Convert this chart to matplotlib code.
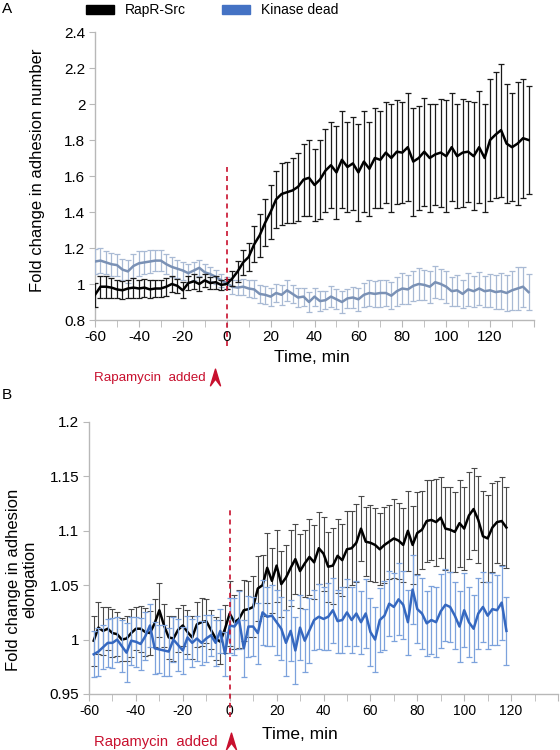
import matplotlib
matplotlib.use('Agg')
import matplotlib.pyplot as plt
import numpy as np
from matplotlib.lines import Line2D
from matplotlib.patches import Patch
from matplotlib.path import Path
from matplotlib.ticker import FuncFormatter, MultipleLocator
import matplotlib.transforms as mtransforms

plt.rcParams['font.family'] = ['Liberation Sans', 'DejaVu Sans']
plt.rcParams['axes.unicode_minus'] = False

# ---- panel A: adhesion number (sampled every 2.5 min) ----
time_a = np.arange(-60, 140, 2.5)

rapr_num = [0.94, 0.985, 0.985, 0.98, 0.97, 0.965, 0.975, 0.98, 0.975, 0.98,
            0.97, 0.975, 0.975, 0.985, 1.0, 0.99, 0.965, 1.005, 1.015, 1.0,
            1.02, 1.005, 1.01, 0.995,
            1.0, 1.03, 1.07, 1.12, 1.15, 1.22, 1.27, 1.34, 1.40, 1.47,
            1.50, 1.51, 1.52, 1.54, 1.58, 1.59, 1.55, 1.58, 1.63, 1.66,
            1.62, 1.69, 1.65, 1.67, 1.62, 1.68, 1.64, 1.70, 1.69, 1.73,
            1.70, 1.735, 1.73, 1.76, 1.68, 1.70, 1.735, 1.70, 1.72, 1.73,
            1.71, 1.76, 1.71, 1.73, 1.735, 1.71, 1.76, 1.70, 1.80, 1.83,
            1.855, 1.78, 1.76, 1.78, 1.81, 1.80]
rapr_num_err = [0.065, 0.06, 0.06, 0.055, 0.05, 0.05, 0.05, 0.055, 0.05, 0.05,
                0.05, 0.045, 0.045, 0.05, 0.045, 0.04, 0.045, 0.04, 0.04, 0.04,
                0.035, 0.035, 0.035, 0.03,
                0.03, 0.04, 0.06, 0.07, 0.08, 0.10, 0.12, 0.13, 0.15, 0.16,
                0.17, 0.17, 0.18, 0.19, 0.20, 0.21, 0.20, 0.22, 0.23, 0.24,
                0.26, 0.27, 0.25, 0.26, 0.27, 0.28, 0.26, 0.28, 0.27, 0.28,
                0.30, 0.29, 0.28, 0.30, 0.30, 0.29, 0.30, 0.30, 0.28, 0.30,
                0.31, 0.30, 0.29, 0.30, 0.28, 0.30, 0.31, 0.30, 0.34, 0.35,
                0.37, 0.33, 0.30, 0.34, 0.33, 0.30]

kd_num = [1.125, 1.13, 1.12, 1.11, 1.105, 1.08, 1.07, 1.10, 1.115, 1.12,
          1.125, 1.13, 1.13, 1.11, 1.095, 1.085, 1.075, 1.06, 1.075, 1.09,
          1.065, 1.055, 1.04, 1.02,
          1.005, 0.985, 0.98, 0.985, 0.975, 0.97, 0.945, 0.94, 0.93, 0.95,
          0.94, 0.965, 0.945, 0.925, 0.93, 0.90, 0.93, 0.905, 0.91, 0.93,
          0.915, 0.90, 0.92, 0.925, 0.915, 0.94, 0.95, 0.945, 0.95, 0.95,
          0.935, 0.96, 0.975, 0.97, 0.99, 1.0, 0.995, 0.985, 1.01, 1.0,
          0.985, 0.96, 0.965, 0.945, 0.97, 0.96, 0.975, 0.96, 0.965, 0.955,
          0.96, 0.95, 0.965, 0.975, 0.985, 0.955]
kd_num_err = [0.07, 0.07, 0.065, 0.065, 0.06, 0.06, 0.065, 0.065, 0.07, 0.065,
              0.065, 0.06, 0.06, 0.055, 0.055, 0.05, 0.05, 0.05, 0.05, 0.045,
              0.045, 0.04, 0.04, 0.035,
              0.035, 0.04, 0.04, 0.045, 0.045, 0.05, 0.05, 0.05, 0.05, 0.05,
              0.055, 0.06, 0.05, 0.055, 0.05, 0.055, 0.05, 0.055, 0.05, 0.06,
              0.055, 0.06, 0.055, 0.06, 0.065, 0.065, 0.07, 0.07, 0.075, 0.07,
              0.075, 0.08, 0.085, 0.08, 0.085, 0.09, 0.085, 0.09, 0.09, 0.085,
              0.09, 0.08, 0.085, 0.08, 0.09, 0.085, 0.09, 0.085, 0.09, 0.095,
              0.10, 0.10, 0.11, 0.12, 0.11, 0.10]

# ---- panel B: adhesion elongation (sampled every 2 min) ----
time_b = np.arange(-58, 120, 2)

rapr_elong = [0.999, 1.011, 1.008, 1.010, 1.006, 1.005, 1.0, 1.001, 1.006, 1.010,
              1.010, 1.007, 1.006, 1.015, 1.027, 1.013, 1.002, 1.001, 1.009, 1.013,
              1.007, 1.002, 1.014, 1.016, 1.017, 1.009, 1.001, 0.998, 1.010,
              1.024, 1.016, 1.019, 1.027, 1.028, 1.030, 1.047, 1.050, 1.066, 1.054,
              1.068, 1.051, 1.057, 1.066, 1.074, 1.063, 1.070, 1.076, 1.071, 1.084,
              1.079, 1.067, 1.068, 1.077, 1.073, 1.083, 1.084, 1.089, 1.102, 1.090,
              1.089, 1.087, 1.083, 1.087, 1.090, 1.093, 1.091, 1.087, 1.100, 1.087,
              1.098, 1.101, 1.109, 1.110, 1.108, 1.112, 1.102, 1.101, 1.099, 1.107,
              1.102, 1.114, 1.120, 1.110, 1.095, 1.093, 1.103, 1.108, 1.109, 1.103]
rapr_elong_err = [0.023, 0.024, 0.022, 0.020, 0.022, 0.020, 0.020, 0.021, 0.022, 0.020,
                  0.021, 0.022, 0.020, 0.022, 0.025, 0.020, 0.020, 0.021, 0.020, 0.019,
                  0.020, 0.020, 0.021, 0.022, 0.020, 0.018, 0.020, 0.020, 0.022,
                  0.030, 0.025, 0.027, 0.028, 0.026, 0.028, 0.030, 0.028, 0.032, 0.030,
                  0.033, 0.030, 0.030, 0.035, 0.032, 0.034, 0.031, 0.035, 0.034, 0.033,
                  0.034, 0.032, 0.035, 0.034, 0.033, 0.035, 0.034, 0.036, 0.030, 0.032,
                  0.035, 0.034, 0.033, 0.035, 0.034, 0.036, 0.035, 0.034, 0.037, 0.036,
                  0.038, 0.036, 0.038, 0.037, 0.040, 0.037, 0.038, 0.039, 0.037, 0.040,
                  0.038, 0.040, 0.038, 0.040, 0.042, 0.040, 0.041, 0.038, 0.040, 0.037]

kd_elong = [0.9865, 0.989, 0.993, 0.997, 0.997, 1.0, 0.994, 0.988, 0.999, 0.998,
            0.996, 1.003, 1.013, 0.992, 0.991, 0.990, 0.989, 1.0, 0.995, 0.990,
            1.002, 0.997, 1.001, 0.997, 1.001, 1.004, 0.997, 1.008, 0.987,
            1.013, 1.012, 1.018, 0.992, 1.012, 1.012, 1.006, 1.025, 1.021, 1.022,
            1.016, 1.010, 0.997, 1.008, 0.990, 1.011, 0.999, 1.0085, 1.018, 1.021,
            1.019, 1.021, 1.027, 1.017, 1.018, 1.025, 1.018, 1.024, 1.016, 1.024,
            1.007, 1.0, 1.018, 1.022, 1.033, 1.030, 1.037, 1.032, 1.016, 1.046,
            1.028, 1.024, 1.015, 1.018, 1.016, 1.026, 1.032, 1.030, 1.022, 1.012,
            1.027, 1.016, 1.010, 1.024, 1.030, 1.022, 1.028, 1.027, 1.034, 1.008]
kd_elong_err = [0.021, 0.022, 0.020, 0.022, 0.023, 0.021, 0.024, 0.027, 0.022, 0.023,
                0.024, 0.022, 0.020, 0.024, 0.022, 0.023, 0.022, 0.021, 0.024, 0.022,
                0.020, 0.022, 0.021, 0.020, 0.022, 0.019, 0.021, 0.020, 0.020,
                0.025, 0.026, 0.027, 0.026, 0.028, 0.027, 0.028, 0.030, 0.027, 0.028,
                0.030, 0.029, 0.030, 0.028, 0.031, 0.030, 0.029, 0.030, 0.028, 0.030,
                0.029, 0.031, 0.030, 0.029, 0.030, 0.031, 0.030, 0.030, 0.029, 0.032,
                0.031, 0.030, 0.029, 0.032, 0.030, 0.031, 0.033, 0.031, 0.030, 0.032,
                0.031, 0.033, 0.030, 0.031, 0.032, 0.034, 0.033, 0.032, 0.031, 0.033,
                0.034, 0.032, 0.031, 0.033, 0.032, 0.031, 0.033, 0.032, 0.034, 0.031]

legend_labels = ['RapR-Src', 'Kinase dead']
rapamycin_time = 0
RED = '#c8102e'
AXIS_GREY = '#b8b8b8'


def chevron():
    verts = [(0, 1), (0.6, -1), (0, -0.2), (-0.6, -1), (0, 1)]
    codes = [Path.MOVETO, Path.LINETO, Path.LINETO, Path.LINETO, Path.CLOSEPOLY]
    return Path(verts, codes)


def style_axes(ax, ylim, ystep, tick_font):
    ax.set_xlim(-60, 140)
    ax.set_ylim(*ylim)
    for s in ['top', 'right']:
        ax.spines[s].set_visible(False)
    for s in ['left', 'bottom']:
        ax.spines[s].set_color(AXIS_GREY)
        ax.spines[s].set_linewidth(1.0)
    ax.xaxis.set_major_locator(MultipleLocator(20))
    ax.xaxis.set_minor_locator(MultipleLocator(10))
    ax.yaxis.set_major_locator(MultipleLocator(ystep))
    ax.xaxis.set_major_formatter(FuncFormatter(lambda v, p: '' if v > 125 else '%d' % v))
    ax.yaxis.set_major_formatter(FuncFormatter(lambda v, p: '%g' % round(v, 3)))
    ax.tick_params(axis='both', which='both', color=AXIS_GREY, direction='out')
    ax.tick_params(axis='x', which='major', length=5, pad=2)
    ax.tick_params(axis='x', which='minor', length=5)
    ax.tick_params(axis='y', length=4, pad=3, labelsize=11)
    for lbl in ax.get_xticklabels():
        lbl.set_fontfamily(tick_font[0])
        lbl.set_fontsize(tick_font[1])


def rapamycin_marks(ax, top_frac, bottom_frac, text_xy, arrow_xy, fs):
    trans = mtransforms.blended_transform_factory(ax.transData, ax.transAxes)
    ax.plot([rapamycin_time, rapamycin_time], [bottom_frac, top_frac], transform=trans,
            color=RED, ls=(0, (3, 2.5)), lw=1.2, clip_on=False, zorder=6)
    fig.text(text_xy[0] / 560, 1 - text_xy[1] / 750, 'Rapamycin  added', color=RED,
             fontsize=fs, ha='left', va='center')
    fig.add_artist(Line2D([arrow_xy[0] / 560], [1 - arrow_xy[1] / 750], transform=fig.transFigure,
                          marker=chevron(), markersize=12, color=RED, ls='none'))


fig = plt.figure(figsize=(5.6, 7.5), dpi=100)

# panel A
ax1 = fig.add_axes([95 / 560, 1 - 320 / 750, 439 / 560, 288 / 750])
ax1.errorbar(time_a, kd_num, yerr=kd_num_err, color='#7a91b5', lw=1.8,
             ecolor='#a9bad4', elinewidth=0.9, capsize=2.2, capthick=0.9, zorder=3)
ax1.errorbar(time_a, rapr_num, yerr=rapr_num_err, color='black', lw=1.8,
             ecolor='#1a1a1a', elinewidth=0.9, capsize=2.2, capthick=0.9, zorder=4)
style_axes(ax1, (0.8, 2.4), 0.2, (['Liberation Sans', 'DejaVu Sans'], 11))
ax1.set_ylabel('Fold change in adhesion number', fontsize=12)
ax1.yaxis.set_label_coords(-0.115, 0.52)
ax1.set_xlabel('Time, min', fontsize=12.5)
ax1.xaxis.set_label_coords(0.495, -0.105)
rapamycin_marks(ax1, 0.531, -0.09, (94, 378), (215, 377), 9.6)

# panel B
ax2 = fig.add_axes([89 / 560, 1 - 694 / 750, 469 / 560, 272 / 750])
ax2.errorbar(time_b, rapr_elong, yerr=rapr_elong_err, color='black', lw=1.8,
             ecolor='#4a4a4a', elinewidth=0.8, capsize=2.2, capthick=0.8, zorder=3)
ax2.errorbar(time_b, kd_elong, yerr=kd_elong_err, color='#3568c0', lw=1.8,
             ecolor='#7ca2dc', elinewidth=0.9, capsize=2.2, capthick=0.9, zorder=4)
style_axes(ax2, (0.95, 1.2), 0.05, (['Liberation Sans Narrow', 'Liberation Sans'], 10))
ax2.set_ylabel('Fold change in adhesion\nelongation', fontsize=12, linespacing=1.1)
ax2.yaxis.set_label_coords(-0.11, 0.42)
ax2.set_xlabel('Time, min', fontsize=12.5)
ax2.xaxis.set_label_coords(0.45, -0.12)
rapamycin_marks(ax2, 0.684, -0.085, (94, 742), (231, 741), 10.6)

# legend and panel letters
handles = [Patch(color='black'), Patch(color='#4472c4')]
fig.legend(handles, legend_labels, loc='center', bbox_to_anchor=(212 / 560, 1 - 10 / 750),
           ncol=2, frameon=False, fontsize=10, handlelength=2.0, handleheight=0.6,
           columnspacing=2.6, handletextpad=0.8)
fig.text(2 / 560, 1 - 9 / 750, 'A', fontsize=11, va='center')
fig.text(2 / 560, 1 - 395 / 750, 'B', fontsize=11, va='center')

plt.savefig('out.png', dpi=100)
